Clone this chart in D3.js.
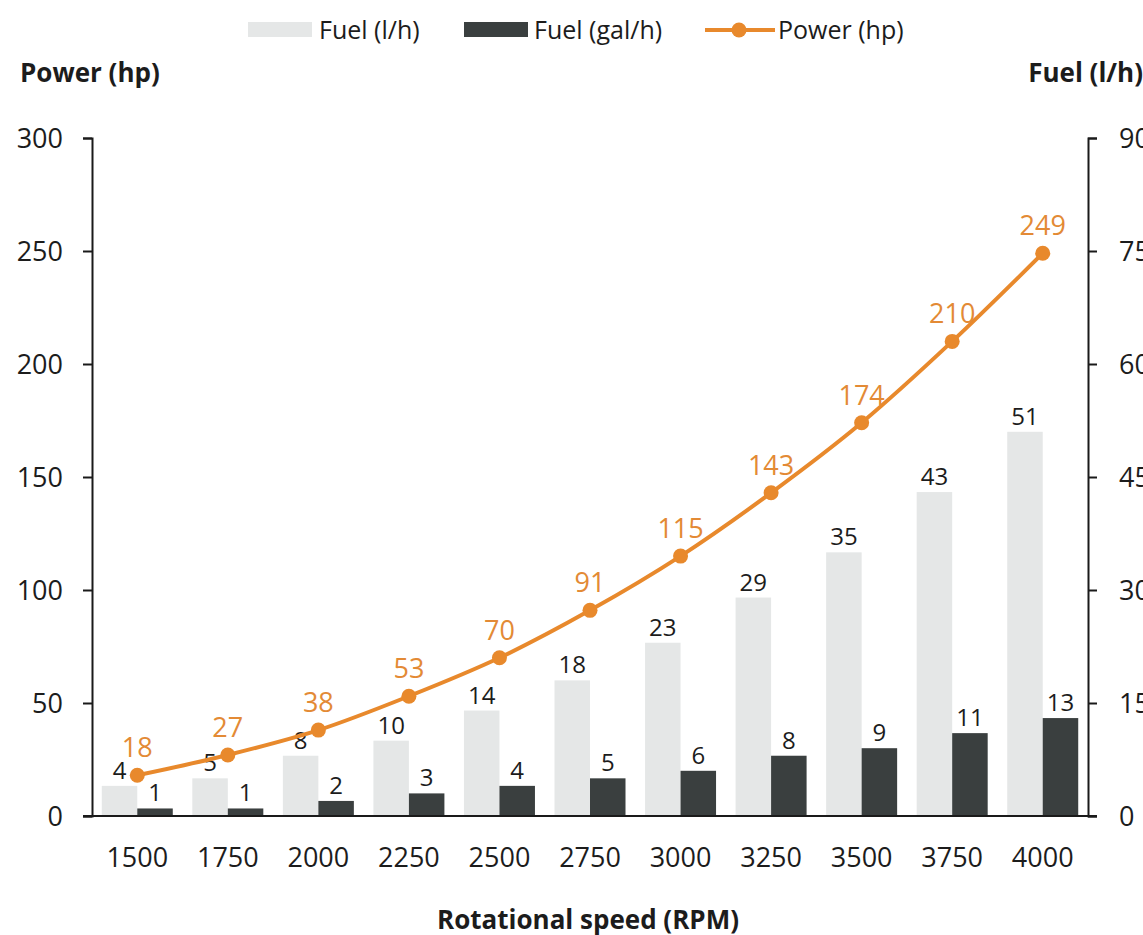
<!DOCTYPE html>
<html>
<head>
<meta charset="utf-8">
<script src="https://cdn.jsdelivr.net/npm/d3@7/dist/d3.min.js"></script>
<style>
  html, body { margin: 0; padding: 0; background: #ffffff; }
  svg { display: block; font-family: "Open Sans", "Noto Sans", sans-serif; }
</style>
</head>
<body>
<svg id="chart" width="1143" height="935"></svg>
<script>
// Engine performance across rotational speed
const rpm = ["1500", "1750", "2000", "2250", "2500", "2750", "3000", "3250", "3500", "3750", "4000"];
const fuelLitres = [4, 5, 8, 10, 14, 18, 23, 29, 35, 43, 51];
const fuelGallons = [1, 1, 2, 3, 4, 5, 6, 8, 9, 11, 13];
const powerHp = [18, 27, 38, 53, 70, 91, 115, 143, 174, 210, 249];
const powerTicks = [0, 50, 100, 150, 200, 250, 300];
const fuelTicks = [0, 15, 30, 45, 60, 75, 90];

const colLitres = "#e5e7e7";
const colGallons = "#3a3f3f";
const colPower = "#e8892c";
const colPowerText = "#e38a35";
const colText = "#1c1c1c";

const svg = d3.select("#chart");
const plotLeft = 92, plotRight = 1088, plotTop = 138, plotBottom = 816;

const x = d3.scaleBand().domain(rpm).range([plotLeft, plotRight]).paddingInner(0).paddingOuter(0);
const yPower = d3.scaleLinear().domain([0, 300]).range([plotBottom, plotTop]);
const yFuel = d3.scaleLinear().domain([0, 90]).range([plotBottom, plotTop]);

const barW = 35.5;
const cx = d => x(d) + x.bandwidth() / 2;

// Fuel bars (right axis)
const g = svg.append("g");
g.selectAll("rect.litres").data(rpm).join("rect")
  .attr("class", "litres")
  .attr("x", (d) => cx(d) - barW)
  .attr("width", barW)
  .attr("y", (d, i) => yFuel(fuelLitres[i]))
  .attr("height", (d, i) => plotBottom - yFuel(fuelLitres[i]))
  .attr("fill", colLitres);

g.selectAll("rect.gallons").data(rpm).join("rect")
  .attr("class", "gallons")
  .attr("x", (d) => cx(d))
  .attr("width", barW)
  .attr("y", (d, i) => yFuel(fuelGallons[i]))
  .attr("height", (d, i) => plotBottom - yFuel(fuelGallons[i]))
  .attr("fill", colGallons);

// Bar value labels
g.selectAll("text.litres").data(rpm).join("text")
  .attr("class", "litres")
  .attr("x", (d) => cx(d) - barW / 2)
  .attr("y", (d, i) => yFuel(fuelLitres[i]) - 7)
  .attr("text-anchor", "middle")
  .attr("font-size", 24)
  .attr("fill", colText)
  .text((d, i) => fuelLitres[i]);

g.selectAll("text.gallons").data(rpm).join("text")
  .attr("class", "gallons")
  .attr("x", (d) => cx(d) + barW / 2)
  .attr("y", (d, i) => yFuel(fuelGallons[i]) - 7)
  .attr("text-anchor", "middle")
  .attr("font-size", 24)
  .attr("fill", colText)
  .text((d, i) => fuelGallons[i]);

// Power curve (left axis)
const line = d3.line()
  .x((d, i) => cx(rpm[i]))
  .y(d => yPower(d))
  .curve(d3.curveMonotoneX);

svg.append("path")
  .datum(powerHp)
  .attr("d", line)
  .attr("fill", "none")
  .attr("stroke", colPower)
  .attr("stroke-width", 4);

svg.selectAll("circle.power").data(powerHp).join("circle")
  .attr("class", "power")
  .attr("cx", (d, i) => cx(rpm[i]))
  .attr("cy", d => yPower(d))
  .attr("r", 7.5)
  .attr("fill", colPower);

svg.selectAll("text.power").data(powerHp).join("text")
  .attr("class", "power")
  .attr("x", (d, i) => cx(rpm[i]))
  .attr("y", d => yPower(d) - 18)
  .attr("text-anchor", "middle")
  .attr("font-size", 27)
  .attr("fill", colPowerText)
  .text(d => d);

// Axes
const axisStyle = sel => {
  sel.selectAll("path, line").attr("stroke", "#1a1a1a").attr("stroke-width", 2);
  sel.selectAll("text").attr("font-size", 27).attr("fill", colText).attr("font-family", "\"Open Sans\", sans-serif");
};

svg.append("g")
  .attr("transform", `translate(${plotLeft},0)`)
  .call(d3.axisLeft(yPower).tickValues(powerTicks).tickSize(9).tickSizeOuter(9).tickPadding(20))
  .call(axisStyle)
  .call(s => s.selectAll("text").attr("dy", "0.34em"));

svg.append("g")
  .attr("transform", `translate(${plotRight},0)`)
  .call(d3.axisRight(yFuel).tickValues(fuelTicks).tickSize(9).tickSizeOuter(9).tickPadding(22))
  .call(axisStyle)
  .call(s => s.selectAll("text").attr("dy", "0.34em"));

svg.append("g")
  .attr("transform", `translate(0,${plotBottom})`)
  .call(d3.axisBottom(x).tickSize(0).tickSizeOuter(0).tickPadding(32))
  .call(axisStyle)
  .call(s => s.select("path.domain").attr("d", `M${plotLeft - 9},0H${plotRight + 9}`));

// Axis titles
svg.append("text").attr("x", 20).attr("y", 82)
  .attr("font-size", 26).attr("font-weight", 700).attr("fill", colText)
  .text("Power (hp)");
svg.append("text").attr("x", 1143).attr("y", 82).attr("text-anchor", "end")
  .attr("font-size", 26).attr("font-weight", 700).attr("fill", colText)
  .text("Fuel (l/h)");
svg.append("text").attr("x", 588).attr("y", 929).attr("text-anchor", "middle")
  .attr("font-size", 26).attr("font-weight", 700).attr("fill", colText)
  .text("Rotational speed (RPM)");

// Legend
const legend = svg.append("g").attr("font-size", 25).attr("fill", colText);
legend.append("rect").attr("x", 248).attr("y", 22).attr("width", 64).attr("height", 15).attr("fill", colLitres);
legend.append("text").attr("x", 319).attr("y", 39).text("Fuel (l/h)");
legend.append("rect").attr("x", 464).attr("y", 22).attr("width", 64).attr("height", 15).attr("fill", colGallons);
legend.append("text").attr("x", 534).attr("y", 39).text("Fuel (gal/h)");
legend.append("line").attr("x1", 705).attr("x2", 775).attr("y1", 30).attr("y2", 30)
  .attr("stroke", colPower).attr("stroke-width", 4);
legend.append("circle").attr("cx", 739).attr("cy", 30).attr("r", 7.5).attr("fill", colPower);
legend.append("text").attr("x", 778).attr("y", 39).text("Power (hp)");
</script>
</body>
</html>
